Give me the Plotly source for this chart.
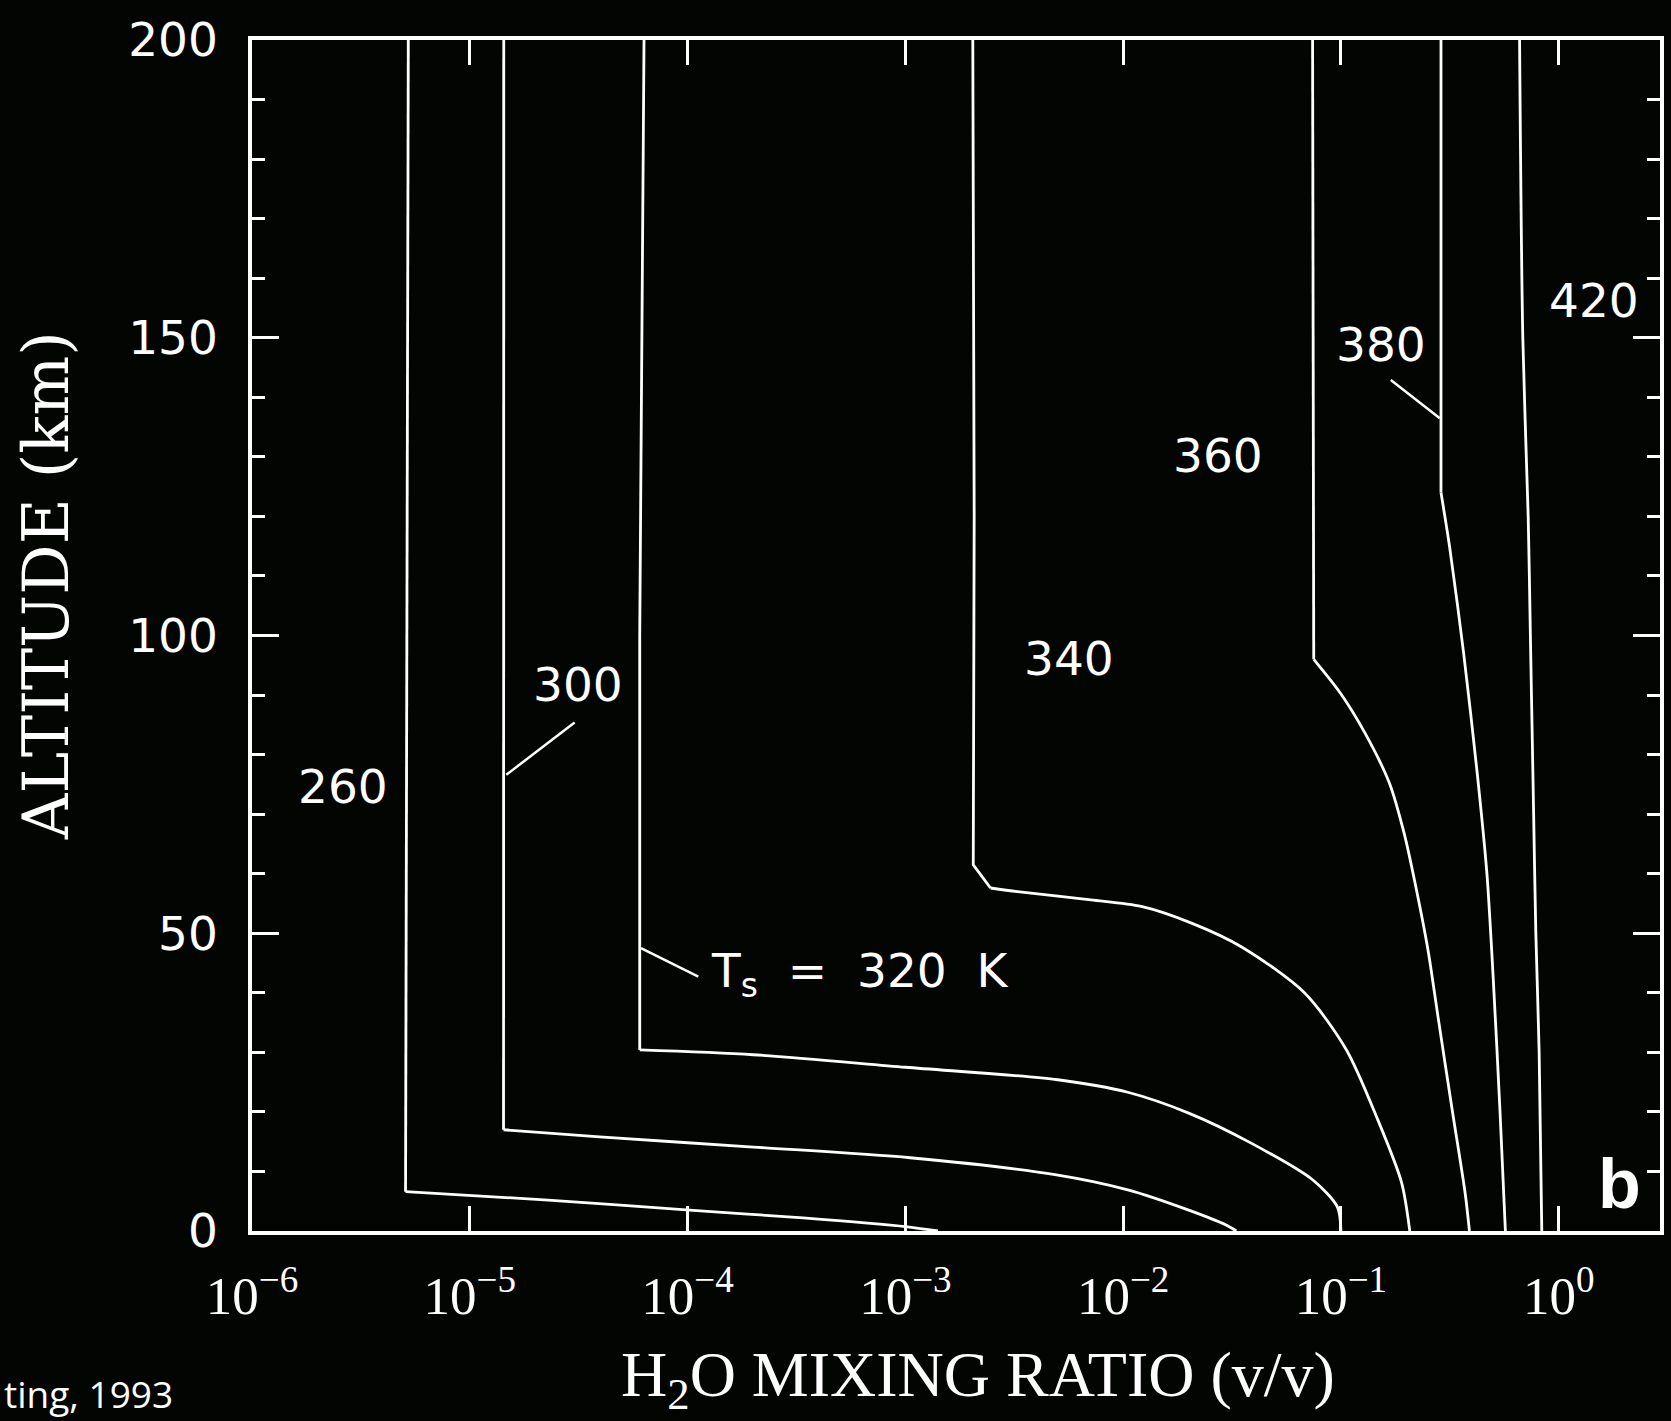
import numpy as np
import plotly.graph_objects as go

# ---------------- data ----------------
# H2O mixing ratio (v/v) vs altitude (km) for several surface temperatures Ts (K)
mix_260 = [5.22e-6, 5.13e-6, 5.07e-6, 2.29e-5, 1.02e-4, 3.39e-4, 1.02e-3, 1.41e-3]
alt_260 = [200, 100, 6.6, 5.2, 3.5, 2.2, 0.7, 0]

mix_300 = [1.432e-5, 1.429e-5, 1.429e-5, 3.94e-5, 2.0e-4, 1.05e-3, 4.79e-3, 1.05e-2, 2.0e-2, 2.97e-2, 3.31e-2]
alt_300 = [200, 100, 17.0, 15.8, 14.1, 12.3, 9.5, 6.9, 3.5, 1.0, 0]

mix_320 = [6.31e-5, 6.03e-5, 6.03e-5, 2.0e-4, 1.0e-3, 5.01e-3, 1.05e-2, 2.0e-2, 3.85e-2, 7.41e-2, 9.64e-2, 0.100]
alt_320 = [200, 100, 30.4, 29.6, 27.5, 25.4, 23.3, 19.8, 14.8, 8.6, 4.0, 0]

mix_340 = [2.04e-3, 2.07e-3, 2.05e-3, 2.46e-3, 3.27e-3, 7.11e-3, 1.21e-2, 2.06e-2, 3.5e-2, 6.8e-2, 0.106, 0.146, 0.190, 0.207]
alt_340 = [200, 120, 61.5, 57.6, 57.0, 55.6, 54.5, 51.7, 47.7, 40.0, 30.4, 19.1, 8.1, 0]

mix_360 = [7.41e-2, 7.46e-2, 7.50e-2, 9.95e-2, 0.129, 0.167, 0.195, 0.219, 0.251, 0.279, 0.324, 0.372, 0.389]
alt_360 = [200, 130, 96.0, 90.3, 83.6, 75.2, 66.8, 58.4, 47.2, 36.0, 20.4, 6.3, 0]

mix_380 = [0.288, 0.288, 0.316, 0.366, 0.422, 0.468, 0.501, 0.537, 0.569]
alt_380 = [200, 124, 114.7, 97, 77, 60, 42, 20.4, 0]

mix_420 = [0.661, 0.684, 0.724, 0.741, 0.767, 0.785, 0.813, 0.836]
alt_420 = [200, 150, 120, 100, 70, 50, 30, 0]

# index where each profile leaves its straight upper part and becomes a smooth curve
knee_260, knee_300, knee_320, knee_340, knee_360, knee_380, knee_420 = 2, 2, 2, 3, 2, 1, 0

# leader lines for labels
lead_300_mix = [1.47e-5, 3.03e-5]
lead_300_alt = [76.6, 85.4]
lead_320_mix = [6.11e-5, 1.12e-4]
lead_320_alt = [47.5, 42.7]
lead_380_mix = [0.1694, 0.2844]
lead_380_alt = [142.9, 136.5]

curve_labels = ["260", "300", "340", "360", "380", "420"]
ts_label = "T<sub>s</sub>\u00a0\u00a0=\u00a0\u00a0320\u00a0\u00a0K"

x_tick_vals = [1e-6, 1e-5, 1e-4, 1e-3, 1e-2, 1e-1, 1e0]
x_tick_text = ["10<sup>\u22126</sup>", "10<sup>\u22125</sup>", "10<sup>\u22124</sup>",
               "10<sup>\u22123</sup>", "10<sup>\u22122</sup>", "10<sup>\u22121</sup>", "10<sup>0</sup>"]
y_tick_vals = [0, 50, 100, 150, 200]
y_tick_text = ["0", "50", "100", "150", "200"]

# ---------------- figure ----------------
BG = "#030503"
FG = "#ffffff"
LW = 2.8

fig = go.Figure()
profiles = [(mix_260, alt_260, knee_260), (mix_300, alt_300, knee_300),
            (mix_320, alt_320, knee_320), (mix_340, alt_340, knee_340),
            (mix_360, alt_360, knee_360), (mix_380, alt_380, knee_380),
            (mix_420, alt_420, knee_420)]
for xs, ys, k in profiles:
    if k > 0:
        fig.add_trace(go.Scatter(x=xs[:k + 1], y=ys[:k + 1], mode="lines",
                                 line=dict(color=FG, width=LW), hoverinfo="skip"))
    fig.add_trace(go.Scatter(x=xs[k:], y=ys[k:], mode="lines",
                             line=dict(color=FG, width=LW, shape="spline", smoothing=0.8),
                             hoverinfo="skip"))
for xs, ys in [(lead_300_mix, lead_300_alt), (lead_320_mix, lead_320_alt),
               (lead_380_mix, lead_380_alt)]:
    fig.add_trace(go.Scatter(x=xs, y=ys, mode="lines",
                             line=dict(color=FG, width=2.5), hoverinfo="skip"))

label_font = dict(family="DejaVu Sans", size=47, color=FG)
label_pos = [(2.61e-6, 74.6), (3.13e-5, 91.8), (5.64e-3, 96.1),
             (2.72e-2, 130.2), (0.1535, 148.8), (1.455, 156.2)]
annotations = []
for txt, (lx, ly) in zip(curve_labels, label_pos):
    annotations.append(dict(x=np.log10(lx), y=ly, xref="x", yref="y", text=txt,
                            showarrow=False, font=label_font,
                            xanchor="center", yanchor="middle"))
annotations.append(dict(x=np.log10(1.26e-4), y=43.2, xref="x", yref="y", text=ts_label,
                        showarrow=False, font=label_font,
                        xanchor="left", yanchor="middle"))
annotations.append(dict(x=np.log10(1.90), y=7.9, xref="x", yref="y", text="<b>b</b>",
                        showarrow=False,
                        font=dict(family="Liberation Sans", size=70, color=FG),
                        xanchor="center", yanchor="middle"))
# axis titles
annotations.append(dict(x=-0.1455, y=0.5416, xref="paper", yref="paper",
                        text="ALTITUDE (km)", textangle=-90, showarrow=False,
                        font=dict(family="DejaVu Serif", size=63, color=FG),
                        xanchor="center", yanchor="middle"))
annotations.append(dict(x=0.5155, y=-0.124, xref="paper", yref="paper",
                        text="H<sub>2</sub>O MIXING RATIO (v/v)", showarrow=False,
                        font=dict(family="Liberation Serif", size=64, color=FG),
                        xanchor="center", yanchor="middle"))
annotations.append(dict(x=-0.1776, y=-0.1365, xref="paper", yref="paper",
                        text="ting, 1993", showarrow=False,
                        font=dict(family="Open Sans", size=37, color=FG),
                        xanchor="left", yanchor="middle"))

axis_common = dict(showgrid=False, zeroline=False, showline=True, linecolor=FG,
                   linewidth=3.5, mirror="ticks", ticks="inside", tickcolor=FG,
                   tickwidth=2.5)

fig.update_layout(
    width=1671, height=1421,
    margin=dict(l=252, r=7, t=40, b=190, pad=0),
    paper_bgcolor=BG, plot_bgcolor=BG,
    showlegend=False,
    annotations=annotations,
    xaxis=dict(type="log", range=[-6, 0.465], tickmode="array",
               tickvals=x_tick_vals, ticktext=x_tick_text, ticklen=25,
               tickfont=dict(family="Liberation Serif", size=53, color=FG),
               ticklabelstandoff=16, **axis_common),
    yaxis=dict(range=[0, 200], tickmode="array", tickvals=y_tick_vals,
               ticktext=y_tick_text, ticklen=27,
               minor=dict(dtick=10, tick0=0, ticks="inside", ticklen=13,
                          tickwidth=2.5, tickcolor=FG, showgrid=False),
               tickfont=dict(family="DejaVu Sans", size=47, color=FG),
               ticklabelstandoff=21, **axis_common),
)

fig.write_html("out.html")
